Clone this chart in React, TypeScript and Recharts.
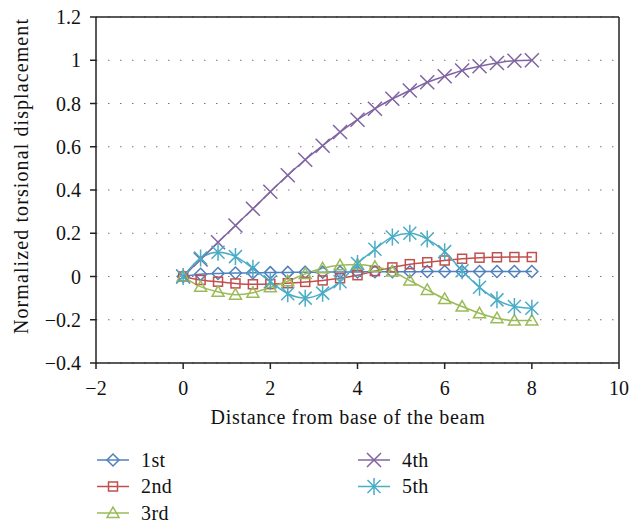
import React from "react"
import { LineChart, Line, XAxis, YAxis, CartesianGrid, ReferenceLine, Label } from "recharts"

// distance from base of beam, sampled every 0.4
const distance = [0, 0.4, 0.8, 1.2, 1.6, 2.0, 2.4, 2.8, 3.2, 3.6, 4.0, 4.4, 4.8, 5.2, 5.6, 6.0, 6.4, 6.8, 7.2, 7.6, 8.0]

const mode1st = [0, 0.01, 0.014, 0.016, 0.017, 0.018, 0.019, 0.02, 0.02, 0.021, 0.021, 0.022, 0.022, 0.022, 0.023, 0.023, 0.023, 0.023, 0.023, 0.023, 0.023]
const mode2nd = [0, -0.016, -0.024, -0.032, -0.036, -0.035, -0.031, -0.025, -0.018, -0.008, 0.006, 0.025, 0.042, 0.057, 0.066, 0.074, 0.082, 0.087, 0.089, 0.09, 0.09]
const mode3rd = [0, -0.047, -0.071, -0.084, -0.075, -0.05, -0.022, 0.012, 0.038, 0.052, 0.055, 0.045, 0.023, -0.019, -0.062, -0.104, -0.139, -0.17, -0.193, -0.204, -0.204]
const mode4th = [0, 0.079, 0.158, 0.236, 0.313, 0.392, 0.468, 0.54, 0.605, 0.668, 0.725, 0.776, 0.822, 0.86, 0.898, 0.926, 0.953, 0.972, 0.987, 0.998, 1.0]
const mode5th = [0, 0.085, 0.112, 0.092, 0.038, -0.024, -0.08, -0.1, -0.077, -0.024, 0.06, 0.126, 0.183, 0.2, 0.173, 0.115, 0.027, -0.05, -0.108, -0.139, -0.147]

const seriesNames = ["1st", "2nd", "3rd", "4th", "5th"]
const seriesKeys = ["m1", "m2", "m3", "m4", "m5"]
const seriesValues = [mode1st, mode2nd, mode3rd, mode4th, mode5th]
const seriesColors = ["#4F81BD", "#C0504D", "#9BBB59", "#8064A2", "#4BACC6"]
const markerKinds = ["diamond", "square", "triangle", "cross", "star"]

const xTicks = [-2, 0, 2, 4, 6, 8, 10]
const yTicks = [-0.4, -0.2, 0, 0.2, 0.4, 0.6, 0.8, 1, 1.2]

const data = distance.map((x, i) => {
  const row: any = { x }
  seriesKeys.forEach((k, s) => (row[k] = seriesValues[s][i]))
  return row
})

const FONT = "'Liberation Serif', 'DejaVu Serif', serif"

const fmt = (v: number) => (v < 0 ? "\u2212" + Math.abs(v) : String(v))

const Marker = ({ kind, cx, cy, color }: { kind: string; cx: number; cy: number; color: string }) => {
  const sw = 1.5
  if (kind === "diamond") {
    return <path d={`M${cx},${cy - 6}L${cx + 6},${cy}L${cx},${cy + 6}L${cx - 6},${cy}Z`} fill="none" stroke={color} strokeWidth={sw} />
  }
  if (kind === "square") {
    return <rect x={cx - 4.5} y={cy - 4.5} width={9} height={9} fill="none" stroke={color} strokeWidth={sw} />
  }
  if (kind === "triangle") {
    return <path d={`M${cx},${cy - 6}L${cx + 6},${cy + 4.5}L${cx - 6},${cy + 4.5}Z`} fill="none" stroke={color} strokeWidth={sw} />
  }
  if (kind === "cross") {
    return (
      <path d={`M${cx - 7},${cy - 7}L${cx + 7},${cy + 7}M${cx - 7},${cy + 7}L${cx + 7},${cy - 7}`} fill="none" stroke={color} strokeWidth={sw} />
    )
  }
  return (
    <path
      d={`M${cx - 6.5},${cy - 6.5}L${cx + 6.5},${cy + 6.5}M${cx - 6.5},${cy + 6.5}L${cx + 6.5},${cy - 6.5}M${cx},${cy - 8.5}L${cx},${cy + 8.5}`}
      fill="none"
      stroke={color}
      strokeWidth={sw}
    />
  )
}

const ChartLegend = () => (
  <svg width={641} height={90} style={{ position: "absolute", left: 0, top: 440 }}>
    {seriesNames.map((name, i) => {
      const col = i < 3 ? 0 : 1
      const row = i % 3
      const x0 = col === 0 ? 97 : 358
      const y = 20 + row * 26.5
      return (
        <g key={name}>
          <line x1={x0} x2={x0 + 32} y1={y} y2={y} stroke={seriesColors[i]} strokeWidth={1.5} />
          <Marker kind={markerKinds[i]} cx={x0 + 16} cy={y} color={seriesColors[i]} />
          <text x={x0 + 44} y={y + 6.5} fontFamily={FONT} fontSize={20} letterSpacing={0.4} fill="#111">
            {name}
          </text>
        </g>
      )
    })}
  </svg>
)

export default function App() {
  return (
    <div style={{ position: "absolute", left: 0, top: 0, width: 641, height: 524, background: "#fff" }}>
      <LineChart width={641} height={524} data={data} margin={{ top: 17, right: 22, bottom: 0, left: 0 }}>
        <CartesianGrid vertical={false} stroke="#777" strokeDasharray="1.5 10.5" />
        <XAxis
          dataKey="x"
          type="number"
          domain={[-2, 10]}
          ticks={xTicks}
          tickFormatter={fmt}
          height={161}
          stroke="#222"
          strokeWidth={1.5}
          tickSize={6}
          tickMargin={12}
          tick={{ fontFamily: FONT, fontSize: 20, fill: "#111" }}
          allowDataOverflow
        >
          <Label
            content={() => (
              <text x={348} y={424} textAnchor="middle" fontFamily={FONT} fontSize={20} letterSpacing={0.7} fill="#111">
                Distance from base of the beam
              </text>
            )}
          />
        </XAxis>
        <YAxis
          type="number"
          domain={[-0.4, 1.2]}
          ticks={yTicks}
          tickFormatter={fmt}
          width={96}
          stroke="#222"
          strokeWidth={1.5}
          tickSize={6}
          tickMargin={9}
          tick={{ fontFamily: FONT, fontSize: 20, fill: "#111" }}
          allowDataOverflow
        >
          <Label
            content={() => (
              <text x={28} y={176} transform="rotate(-90 28 176)" textAnchor="middle" fontFamily={FONT} fontSize={20} letterSpacing={1.1} fill="#111">
                Normalized torsional displacement
              </text>
            )}
          />
        </YAxis>
        <ReferenceLine y={1.2} stroke="#222" strokeWidth={1.5} />
        <ReferenceLine x={10} stroke="#222" strokeWidth={1.5} />
        {seriesKeys.map((k, i) => (
          <Line
            key={k}
            dataKey={k}
            name={seriesNames[i]}
            type="monotone"
            stroke={seriesColors[i]}
            strokeWidth={1.5}
            isAnimationActive={false}
            dot={(p: any) => <Marker key={`${k}-${p.index}`} kind={markerKinds[i]} cx={p.cx} cy={p.cy} color={seriesColors[i]} />}
            activeDot={false}
          />
        ))}
      </LineChart>
      <ChartLegend />
    </div>
  )
}
